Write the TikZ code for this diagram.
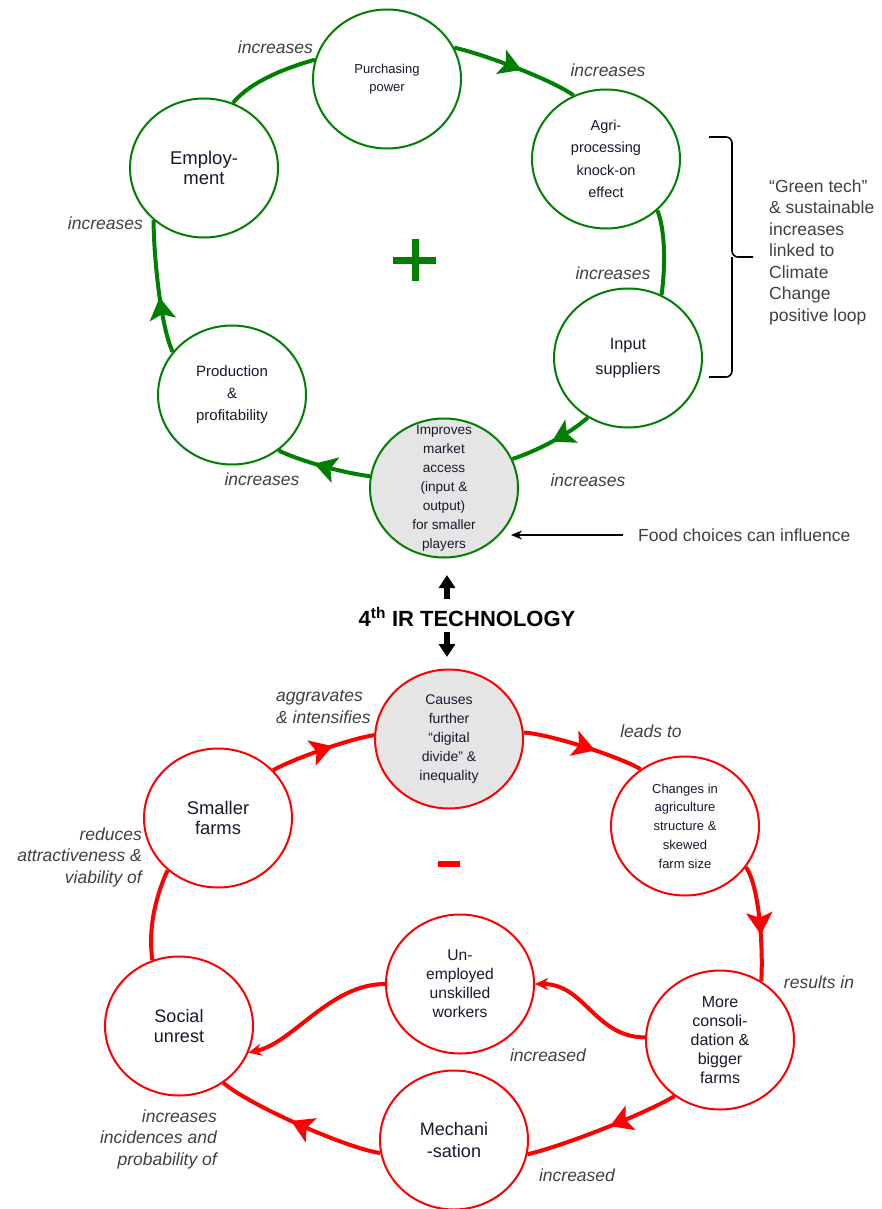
\documentclass[tikz,border=0pt]{standalone}
\usepackage{fontspec}
\setmainfont{Liberation Sans}
\usetikzlibrary{shapes.geometric,arrows.meta,decorations.markings}
\definecolor{gr}{RGB}{0,128,0}
\definecolor{rd}{RGB}{255,0,0}
\definecolor{fillg}{RGB}{229,229,229}
\definecolor{txt}{RGB}{25,25,45}
\definecolor{lab}{RGB}{64,64,64}
\begin{document}
\begin{tikzpicture}[x=1pt,y=-1pt,
  bub/.style={ellipse,draw,line width=2pt,minimum width=148pt,minimum height=139pt,inner sep=-25pt,align=center,text=txt},
  gbub/.style={bub,draw=gr},
  rbub/.style={bub,draw=rd},
  fs/.style 2 args={font=\fontsize{#1}{#2}\selectfont},
  lbl/.style={font=\fontsize{17.5}{21.5}\selectfont\itshape,text=lab,inner sep=0pt},
  conn/.style={line width=4pt},
  gconn/.style={conn,draw=gr},
  rconn/.style={conn,draw=rd},
  midarrow/.style 2 args={postaction={decorate},decoration={markings,mark=at position #1 with {\arrow{Stealth[length=22pt 0 0,width=26pt 0 0,inset=5pt 0 0,color=#2]}}}},
  endarrow/.style={-{Stealth[length=13pt,width=12pt,inset=4pt]}},
  bigarr/.style={line width=6pt,-{Triangle[length=13pt,width=16pt]}},
  brk/.style={line width=1.6pt,draw=black},
]
\fill[white] (0,0) rectangle (881,1209);
\useasboundingbox (0,0) rectangle (881,1209);

% ---------- top (green) loop ----------
\node[gbub,fs={13}{18}] (purch) at (387,79) {Purchasing\\power};
\node[gbub,fs={18.5}{20}] (emp) at (204,168) {Employ-\\ment};
\node[gbub,fs={14.5}{22.5}] (agri) at (606,159) {Agri-\\processing\\knock-on\\effect};
\node[gbub,fs={16.3}{25}] (inp) at (628,358) {Input\\suppliers};
\node[gbub,fill=fillg,fs={13.6}{19}] (impr) at (444,488) {Improves\\market\\access\\(input \&\\output)\\for smaller\\players};
\node[gbub,fs={15}{22}] (prod) at (232,395) {Production\\\&\\profitability};

\draw[gconn] (emp.66) .. controls +(18,-22) and +(-28,8) .. (purch.165);
\draw[gconn,midarrow={0.55}{gr}] (purch.25) .. controls +(28,6) and +(-22,-16) .. (agri.117);
\draw[gconn] (agri.-45) .. controls +(8,20) and +(4,-28) .. (inp.62);
\draw[gconn,midarrow={0.5}{gr}] (inp.236) .. controls +(-18,16) and +(25,-8) .. (impr.23);
\draw[gconn,midarrow={0.6}{gr}] (impr.171) .. controls +(-30,-4) and +(20,10) .. (prod.-50);
\draw[gconn,midarrow={0.42}{gr}] (prod.144) .. controls +(-12,-25) and +(0,35) .. (emp.226);

\draw[gr,line width=7pt] (393,260) -- (436,260);
\draw[gr,line width=7pt] (415,239) -- (415,281);

\node[lbl,anchor=east] (l1) at (313,47) {increases};
\node[lbl] (l2) at (608,70) {increases};
\node[lbl,anchor=east] (l3) at (143,223) {increases};
\node[lbl] (l4) at (613,273) {increases};
\node[lbl] (l5) at (262,479) {increases};
\node[lbl] (l6) at (588,480) {increases};

% bracket and side text
\draw[brk,rounded corners=6pt] (709,137) -- (732,137) -- (732,257) -- (753,257);
\draw[brk,rounded corners=6pt] (709,377) -- (732,377) -- (732,257);
\node[font=\fontsize{17.5}{21.5}\selectfont,text=lab,align=left,anchor=west,inner sep=0pt] (green) at (769,252) {“Green tech”\\\& sustainable\\increases\\linked to\\Climate\\Change\\positive loop};

\node[font=\fontsize{17.5}{21}\selectfont,text=lab,anchor=west,inner sep=0pt] (food) at (638,535) {Food choices can influence};
\draw[line width=1.5pt,-{Stealth[length=11pt,width=9pt]},shorten <=15pt,shorten >=-8pt] (food.west) -- (food.west -| impr.east);

% ---------- middle ----------
\node[font=\fontsize{22}{25}\selectfont\bfseries,text=black] (tech) at (467,617) {4\textsuperscript{th} IR TECHNOLOGY};
\coordinate (upA) at (447,599);
\coordinate (upB) at (447,575);
\coordinate (dnA) at (447,632);
\coordinate (dnB) at (447,657);
\draw[bigarr] (upA) -- (upB);
\draw[bigarr] (dnA) -- (dnB);

% ---------- bottom (red) loop ----------
\node[rbub,fill=fillg,fs={14}{19}] (cause) at (449,739) {Causes\\further\\“digital\\divide” \&\\inequality};
\node[rbub,fs={13}{18.7}] (chg) at (685,826) {Changes in\\agriculture\\structure \&\\skewed\\farm size};
\node[rbub,fs={16}{19}] (more) at (720,1040) {More\\consoli-\\dation \&\\bigger\\farms};
\node[rbub,fs={18}{22}] (mech) at (454,1140) {Mechani\\-sation};
\node[rbub,fs={18}{19.5}] (soc) at (179,1026) {Social\\unrest};
\node[rbub,fs={15.6}{19}] (unemp) at (460,984) {Un-\\employed\\unskilled\\workers};
\node[rbub,fs={18.4}{20}] (small) at (218,818) {Smaller\\farms};

\draw[rconn,midarrow={0.6}{rd}] (small.41) .. controls +(22,-12) and +(-25,4) .. (cause.177);
\draw[rconn,midarrow={0.6}{rd}] (cause.5) .. controls +(28,2) and +(-20,-12) .. (chg.128);
\draw[rconn,midarrow={0.6}{rd}] (chg.-34) .. controls +(14,20) and +(2,-30) .. (more.55);
\draw[rconn,midarrow={0.45}{rd}] (more.231) .. controls +(-30,18) and +(35,-8) .. (mech.-11);
\draw[rconn,midarrow={0.55}{rd}] (mech.190) .. controls +(-32,-4) and +(25,22) .. (soc.-52);
\draw[rconn] (soc.112) .. controls +(-5,-35) and +(-10,22) .. (small.226);
\draw[rconn,endarrow] (more.178) .. controls +(-50,0) and +(50,0) .. (unemp.0);
\draw[rconn,endarrow] (unemp.180) .. controls +(-55,0) and +(45,-10) .. (soc.-21);

\draw[rd,line width=6pt] (438,864) -- (460,864);

\node[lbl,align=left,anchor=west] (l7) at (276,707) {aggravates\\\& intensifies};
\node[lbl] (l8) at (651,731) {leads to};
\node[lbl,align=right,anchor=east] (l9) at (142,857) {reduces\\attractiveness \&\\viability of};
\node[lbl] (l10) at (819,982) {results in};
\node[lbl] (l11) at (548,1055) {increased};
\node[lbl] (l12) at (577,1175) {increased};
\node[lbl,align=right,anchor=east] (l13) at (217,1139) {increases\\incidences and\\probability of};
\end{tikzpicture}
\end{document}
